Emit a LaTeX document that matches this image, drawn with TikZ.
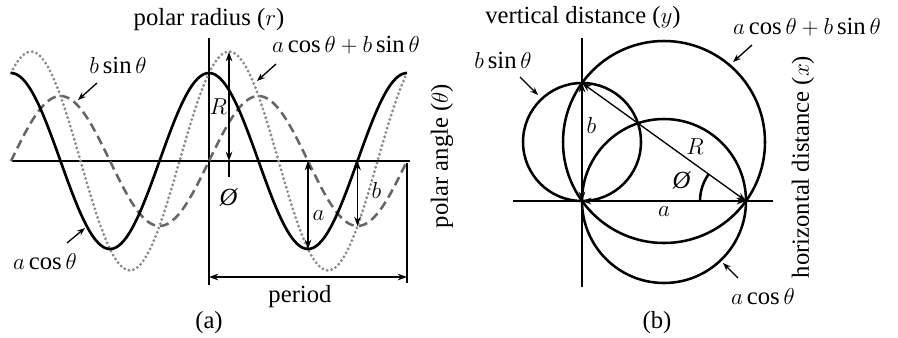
\documentclass[tikz,border=0pt]{standalone}
\usepackage{amsmath}
\usepackage{fontspec}
\setmainfont{Liberation Serif}
\usepackage{tikz}
\usetikzlibrary{arrows.meta,positioning,calc}

\begin{document}
\begin{tikzpicture}[
        x=0.75pt, y=0.75pt,
        font=\fontsize{18.5}{21}\selectfont,
        axis/.style={line width=0.8pt},
        cosline/.style={line width=2pt, black},
        sinline/.style={line width=1.9pt, black!60, dash pattern=on 6.8pt off 3.8pt},
        sumline/.style={line width=2.4pt, black!45, dash pattern=on 0pt off 3.4pt, line cap=round},
        circ/.style={line width=1.9pt},
        dim/.style={{Stealth[length=7pt,width=5pt]}-{Stealth[length=7pt,width=5pt]}, line width=1pt},
        pointer/.style={-{Stealth[length=6pt,width=4.5pt]}, line width=1pt},
        lbl/.style={inner sep=1pt}
    ]

    \useasboundingbox (0,0) rectangle (898,337);

    % Panel (a): waves against polar angle
    \begin{scope}[shift={(209,176)}]
        \draw[axis] (-197,0) -- (201,0);
        \draw[axis] (0,-124) -- (0,123);

        \draw[sinline] plot[domain=-360:360, samples=145, smooth] ({\x/360*198}, {65*sin(\x)});
        \draw[sumline] plot[domain=-360:360, samples=145, smooth] ({\x/360*198}, {88*cos(\x)+65*sin(\x)});
        \draw[cosline] plot[domain=-360:360, samples=145, smooth] ({\x/360*198}, {88*cos(\x)});

        % amplitudes
        \coordinate (peakR) at (20,109);
        \coordinate (footR) at (20,0);
        \coordinate (tickR) at (20,-16);
        \coordinate (troughA) at (99,-88);
        \coordinate (axisA) at (99,0);
        \coordinate (troughB) at (148.5,-65);
        \coordinate (axisB) at (148.5,0);
        \draw[dim] (peakR) -- node[left, lbl] {$R$} (footR);
        \draw[axis] (footR) -- (tickR);
        \node[lbl] (phiA) at (20,-36) {\textit{Ø}};
        \draw[dim] (axisA) -- node[pos=0.62, right, lbl, xshift=2pt] {$a$} (troughA);
        \draw[dim] (axisB) -- node[pos=0.45, right, lbl, xshift=9pt] {$b$} (troughB);

        % period
        \coordinate (perL) at (0,-116);
        \coordinate (perR) at (198,-116);
        \coordinate (barT) at (198,-2);
        \coordinate (barB) at (198,-122);
        \draw[axis] (barT) -- (barB);
        \draw[dim] (perL) -- (perR);
        \node[lbl] (period) at (91,-136) {period};

        % labels
        \node[lbl] (radiusA) at (0,141) {polar radius ($r$)};
        \node[lbl, rotate=90] (angleA) at (233,5) {polar angle ($\theta$)};
        \node[lbl] (capA) at (0,-162) {(a)};

        \node[lbl] (bsinA) at (-91,96) {$b\sin\theta$};
        \coordinate (bsinFrom) at (-112,78);
        \coordinate (bsinTip) at (-131,61);
        \draw[pointer] (bsinFrom) -- (bsinTip);

        \node[lbl] (sumA) at (137,116) {$a\cos\theta+b\sin\theta$};
        \coordinate (sumFrom) at (67,97);
        \coordinate (sumTip) at (48,80);
        \draw[pointer] (sumFrom) -- (sumTip);

        \node[lbl] (acosA) at (-164,-101) {$a\cos\theta$};
        \coordinate (acosFrom) at (-142,-82);
        \coordinate (acosTip) at (-124,-67);
        \draw[pointer] (acosFrom) -- (acosTip);
    \end{scope}

    % Panel (b): the three circles
    \begin{scope}[shift={(582,136)}]
        \coordinate (O) at (0,0);
        \coordinate (A) at (164,0);
        \coordinate (B) at (0,118);

        \draw[axis] (-69,0) -- (191,0);
        \draw[axis] (0,-86) -- (0,163);

        \draw[circ] (0,59) circle (59);
        \draw[circ] (82,0) circle (82);
        \draw[circ] (82,59) circle (101);

        \draw[dim] (O) -- node[pos=0.64, right, lbl, xshift=2pt] {$b$} (B);
        \draw[dim] (O) -- node[below, lbl, yshift=-3pt] {$a$} (A);
        \draw[dim] (B) -- (A);
        \node[lbl] (R) at (113,54) {$R$};
        \draw[circ] ($(A)+(-46,0)$) arc[start angle=180, end angle=144.3, radius=46];
        \node[lbl] (phiB) at (100,21) {\textit{Ø}};

        % labels
        \node[lbl] (vertB) at (1,183) {vertical distance ($y$)};
        \node[lbl, rotate=90] (horzB) at (221,34) {horizontal distance ($x$)};
        \node[lbl] (capB) at (75,-122) {(b)};

        \node[lbl] (bsinB) at (-79,141) {$b\sin\theta$};
        \coordinate (bsinFromB) at (-62,124);
        \coordinate (bsinTipB) at (-44,106);
        \draw[pointer] (bsinFromB) -- (bsinTipB);

        \node[lbl] (sumB) at (225,174) {$a\cos\theta+b\sin\theta$};
        \coordinate (sumFromB) at (170,156);
        \coordinate (sumTipB) at (151,139);
        \draw[pointer] (sumFromB) -- (sumTipB);

        \node[lbl] (acosB) at (181,-96) {$a\cos\theta$};
        \coordinate (acosFromB) at (156,-77);
        \coordinate (acosTipB) at (141,-62);
        \draw[pointer] (acosFromB) -- (acosTipB);
    \end{scope}

\end{tikzpicture}
\end{document}
